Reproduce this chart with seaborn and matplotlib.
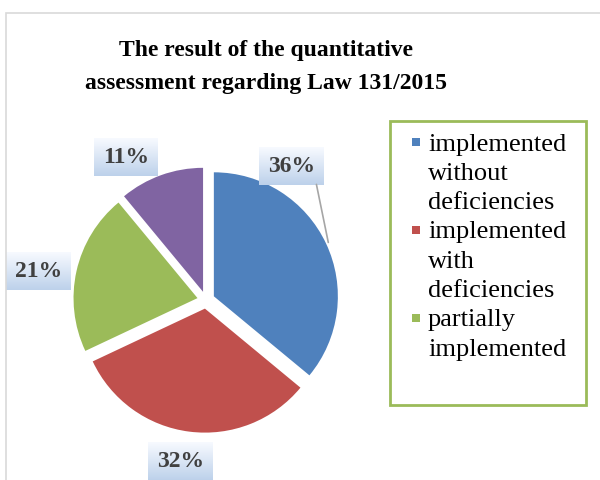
# Pie chart - quantitative assessment regarding Law 131/2015
import numpy as np
import matplotlib
matplotlib.use("Agg")
import matplotlib.pyplot as plt
from matplotlib.patches import Rectangle
import seaborn as sns

sns.set_theme(style="white")
plt.rcParams['font.family'] = ['Liberation Serif', 'DejaVu Serif']

# data
categories = ['implemented\nwithout\ndeficiencies',
              'implemented\nwith\ndeficiencies',
              'partially\nimplemented',
              'not implemented']
shares = [36, 32, 21, 11]
colors = ['#4F81BD', '#C0504D', '#9BBB59', '#8064A2']

W, H = 600, 480
fig = plt.figure(figsize=(6, 4.8), dpi=100)

# light grey chart-area border (runs off the right and bottom edge)
fig.patches.append(Rectangle((6 / W, -0.1), 1.0, 1 - 13 / H + 0.1,
                             transform=fig.transFigure, fill=False,
                             edgecolor='#d9d9d9', linewidth=1.2))

fig.text(266 / W, 1 - 67 / H,
         'The result of the quantitative\nassessment regarding Law 131/2015',
         ha='center', va='center', fontsize=17, fontweight='bold',
         linespacing=1.75, color='black')

ax = fig.add_axes([57.2 / W, 0.065, 297.6 / W, 297.6 / H])
wedges, _ = ax.pie(shares, colors=colors, startangle=90, counterclock=False,
                   explode=[0.07] * 4, radius=1.0,
                   wedgeprops=dict(linewidth=0))

# label placement: (extra rotation in degrees, distance from slice tip)
label_tweak = [(34, 1.22), (-2, 1.25), (3, 1.30), (10, 1.25)]

labels = []
for i, w in enumerate(wedges):
    mid = np.deg2rad((w.theta1 + w.theta2) / 2)
    cx, cy = w.center
    rot, dist = label_tweak[i]
    a = mid + np.deg2rad(rot)
    tx, ty = cx + dist * np.cos(a), cy + dist * np.sin(a)
    box = dict(boxstyle='square,pad=0.32', facecolor='none', edgecolor='none')
    if i == 0:
        ex, ey = cx + 1.02 * np.cos(mid), cy + 1.02 * np.sin(mid)
        t = ax.annotate(f'{shares[i]}%', xy=(ex, ey), xytext=(tx, ty),
                        ha='center', va='center', fontsize=17, fontweight='bold',
                        color='#404040', bbox=box, annotation_clip=False, zorder=5,
                        arrowprops=dict(arrowstyle='-', color='#a6a6a6', lw=1.2,
                                        relpos=(1, 0), shrinkA=0, shrinkB=0))
    else:
        t = ax.text(tx, ty, f'{shares[i]}%', ha='center', va='center',
                    fontsize=17, fontweight='bold', color='#404040', bbox=box,
                    clip_on=False, zorder=5)
    labels.append(t)

# gradient fill behind each data label (white at top -> light blue at bottom)
fig.canvas.draw()
grad = np.linspace(0, 1, 64)[:, None, None]
top = np.array([0.97, 0.98, 1.0])
bot = np.array([0.74, 0.82, 0.92])
img = top * (1 - grad) + bot * grad
inv = ax.transData.inverted()
for t in labels:
    ext = t.get_bbox_patch().get_window_extent()
    (x0, y0), (x1, y1) = inv.transform([[ext.x0, ext.y0], [ext.x1, ext.y1]])
    ax.imshow(img, extent=(x0, x1, y0, y1), origin='upper', aspect='auto',
              zorder=4, clip_on=False)

ax.set_xlim(-1.2, 1.2)
ax.set_ylim(-1.2, 1.2)
ax.set_aspect('equal')
ax.axis('off')

# legend frame with three entries (the fourth does not fit in the box)
fig.patches.append(Rectangle((390 / W, 1 - 405 / H), 196 / W, 284 / H,
                             transform=fig.transFigure, facecolor='white',
                             edgecolor='#9BBB59', linewidth=2))
line_h = 29.3
row = 0
for lab, col in zip(categories[:3], colors[:3]):
    yc = 142 + row * line_h
    fig.patches.append(Rectangle((412 / W, 1 - (yc + 4) / H), 8 / W, 8 / H,
                                 transform=fig.transFigure, facecolor=col,
                                 edgecolor='none'))
    for k, part in enumerate(lab.split('\n')):
        fig.text(428 / W, 1 - (yc + k * line_h) / H, part, ha='left',
                 va='center_baseline', fontsize=19, color='black')
    row += len(lab.split('\n'))

fig.savefig('out.png', dpi=100)
